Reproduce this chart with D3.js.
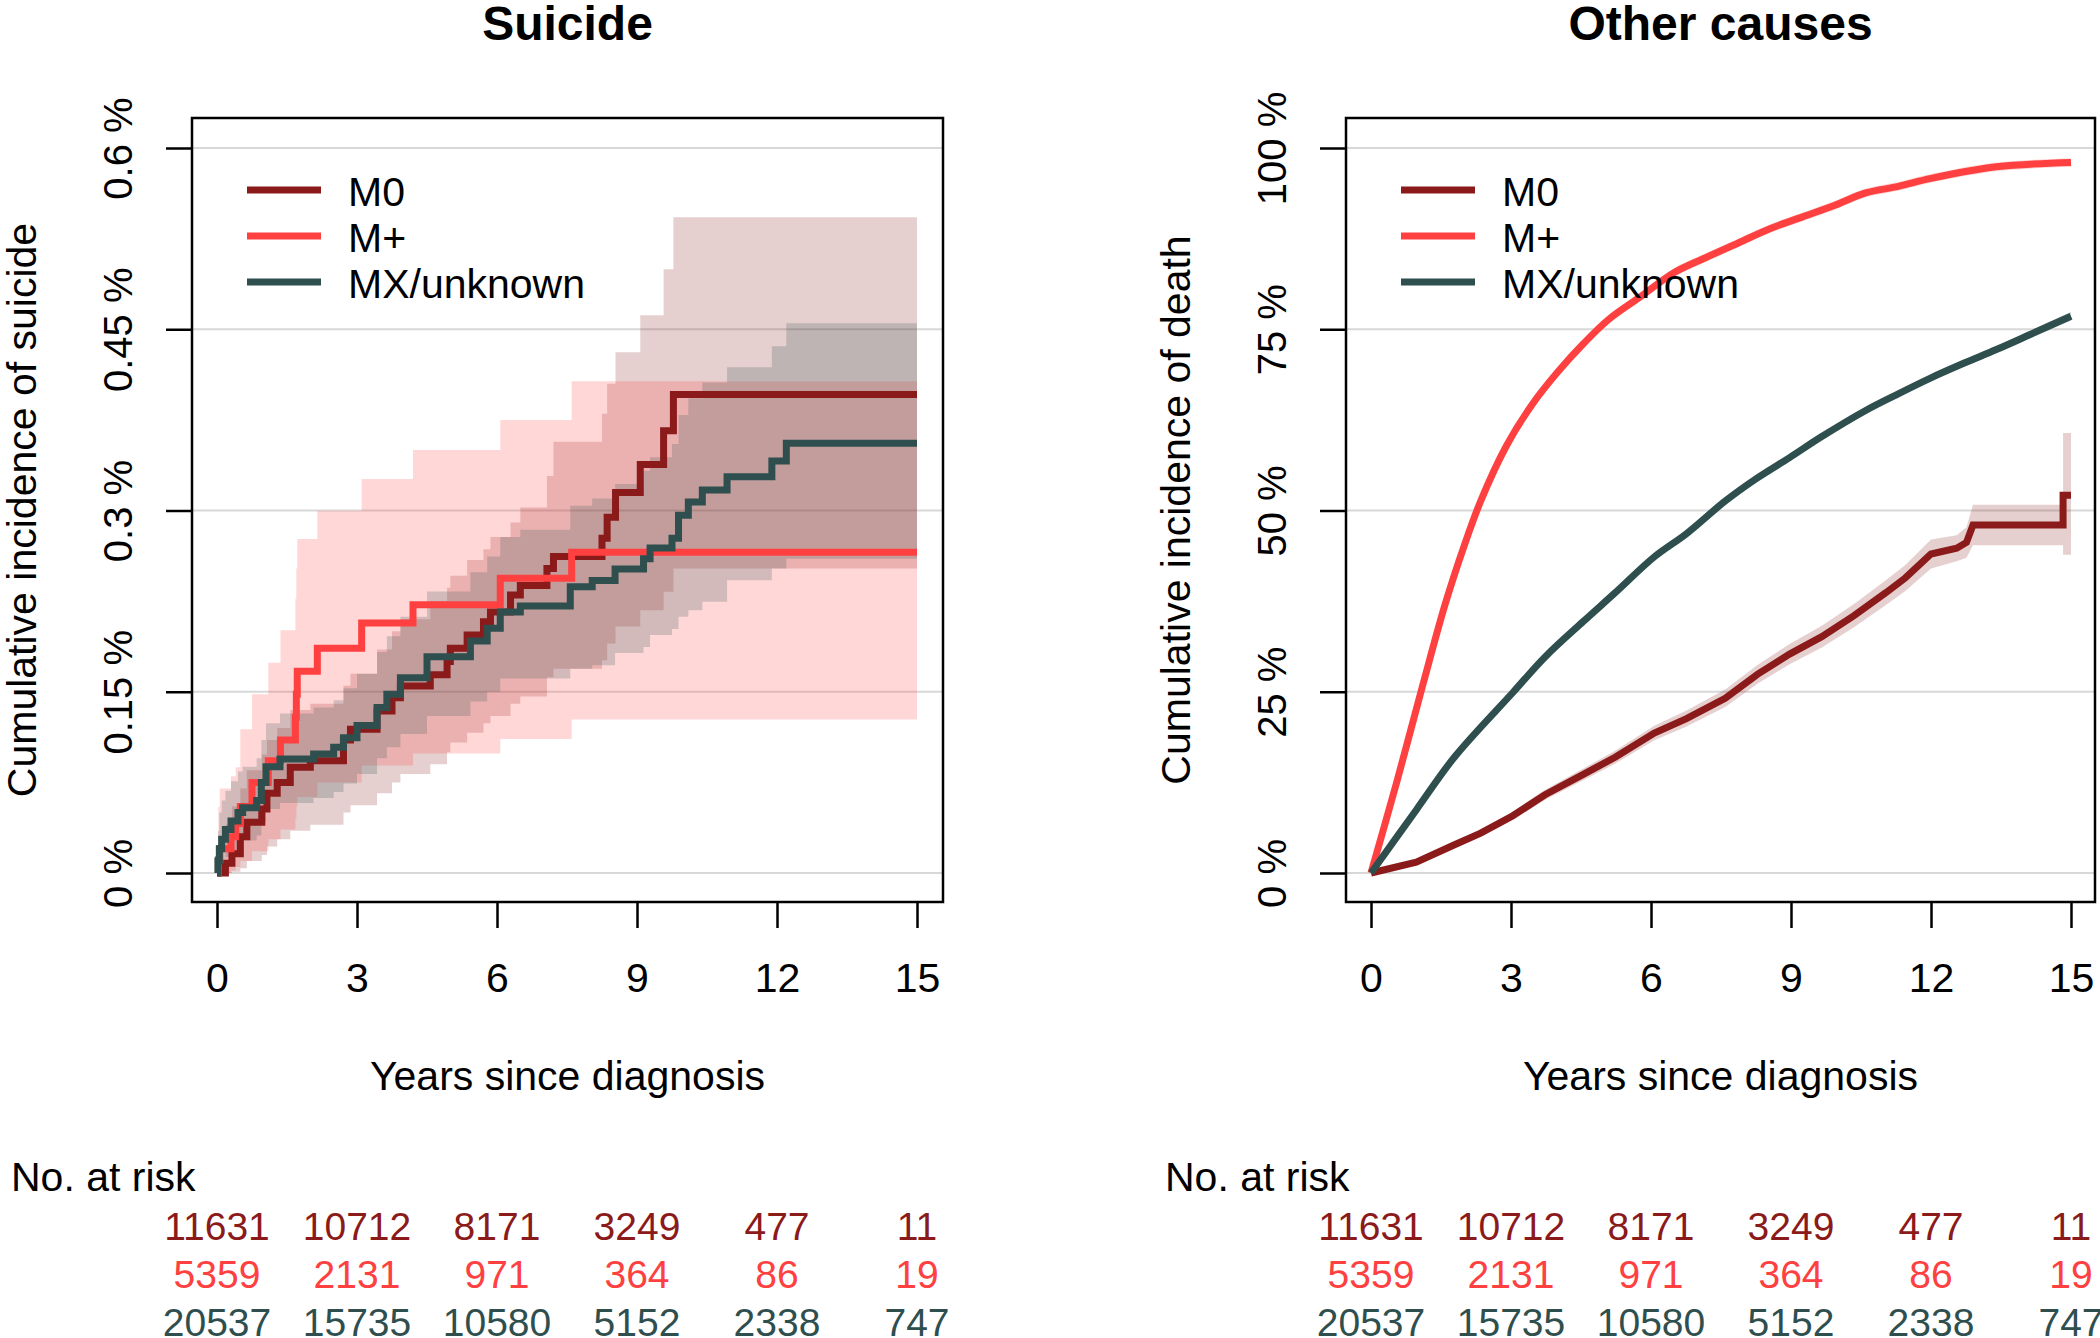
<!DOCTYPE html>
<html>
<head>
<meta charset="utf-8">
<script src="https://cdn.jsdelivr.net/npm/d3@7"></script>
<style>
  body { margin: 0; background: #fff; }
  svg { display: block; }
  text { font-family: "Liberation Sans", Arial, sans-serif; }
</style>
</head>
<body>
<svg id="chart" width="2100" height="1338"></svg>
<script>
// ---------------- DATA ----------------
const groups = ["M0", "M+", "MX/unknown"];
const xTicks = [0, 3, 6, 9, 12, 15];
const suicideTicks = [0, 0.15, 0.3, 0.45, 0.6];
const suicideTickLabels = ["0 %", "0.15 %", "0.3 %", "0.45 %", "0.6 %"];
const deathTicks = [0, 25, 50, 75, 100];
const deathTickLabels = ["0 %", "25 %", "50 %", "75 %", "100 %"];

// Number at risk (at years 0,3,6,9,12,15)
const riskM0 = [11631, 10712, 8171, 3249, 477, 11];
const riskMp = [5359, 2131, 971, 364, 86, 19];
const riskMX = [20537, 15735, 10580, 5152, 2338, 747];

// Suicide: cumulative incidence (%) step functions with 95% CI
const suiM0Time = [0, 0.18, 0.32, 0.5, 0.64, 0.96, 1.07, 1.29, 1.57, 2.0, 2.71, 2.86, 3.43, 3.75, 3.93, 4.57, 4.93, 5.0, 5.36, 5.71, 5.86, 6.29, 6.5, 7.07, 7.21, 8.25, 8.36, 8.54, 9.07, 9.57, 9.78];
const suiM0Est  = [0, 0.008, 0.016, 0.03, 0.042, 0.053, 0.066, 0.075, 0.0876, 0.093, 0.11, 0.119, 0.134, 0.145, 0.1547, 0.164, 0.175, 0.186, 0.197, 0.208, 0.216, 0.23, 0.238, 0.252, 0.262, 0.277, 0.2945, 0.315, 0.338, 0.366, 0.396];
const suiM0Lo   = [0, 0, 0.001, 0.004, 0.01, 0.015, 0.022, 0.028, 0.035, 0.04, 0.05, 0.056, 0.066, 0.075, 0.082, 0.09, 0.1, 0.108, 0.116, 0.124, 0.13, 0.14, 0.146, 0.162, 0.169, 0.176, 0.19, 0.204, 0.2175, 0.2327, 0.252];
const suiM0Hi   = [0, 0.04, 0.055, 0.07, 0.085, 0.098, 0.11, 0.12, 0.135, 0.14, 0.155, 0.165, 0.185, 0.2, 0.21, 0.225, 0.236, 0.246, 0.259, 0.268, 0.278, 0.29, 0.3025, 0.3285, 0.357, 0.38, 0.405, 0.431, 0.4615, 0.4996, 0.5426];

const suiMpTime = [0, 0.03, 0.06, 0.3, 0.4, 0.5, 0.75, 1.1, 1.36, 1.68, 1.7, 1.72, 2.15, 3.1, 4.2, 6.07, 7.6];
const suiMpEst  = [0, 0.011, 0.02, 0.03, 0.041, 0.055, 0.075, 0.093, 0.11, 0.129, 0.148, 0.167, 0.186, 0.207, 0.222, 0.244, 0.2655];
const suiMpLo   = [0, 0, 0, 0.002, 0.005, 0.01, 0.018, 0.028, 0.036, 0.045, 0.055, 0.063, 0.075, 0.089, 0.099, 0.111, 0.127];
const suiMpHi   = [0, 0.055, 0.07, 0.08, 0.0876, 0.119, 0.148, 0.174, 0.201, 0.227, 0.252, 0.2765, 0.2998, 0.326, 0.35, 0.375, 0.407];

const suiMXTime = [0, 0.02, 0.05, 0.1, 0.18, 0.3, 0.45, 0.55, 0.85, 0.95, 1.05, 1.35, 2.07, 2.5, 2.71, 3.0, 3.43, 3.64, 3.93, 4.5, 5.43, 5.79, 6.07, 6.5, 7.57, 8.04, 8.53, 9.14, 9.28, 9.75, 9.89, 10.1, 10.4, 10.93, 11.89, 12.2];
const suiMXEst  = [0, 0.01, 0.02, 0.028, 0.036, 0.043, 0.05, 0.054, 0.06, 0.075, 0.088, 0.0944, 0.0985, 0.104, 0.112, 0.122, 0.137, 0.148, 0.1615, 0.179, 0.192, 0.2026, 0.216, 0.221, 0.237, 0.242, 0.2516, 0.26, 0.269, 0.277, 0.296, 0.307, 0.317, 0.328, 0.341, 0.3556];
const suiMXLo   = [0, 0, 0.003, 0.008, 0.013, 0.018, 0.023, 0.027, 0.031, 0.042, 0.053, 0.058, 0.062, 0.067, 0.074, 0.082, 0.095, 0.104, 0.115, 0.13, 0.142, 0.15, 0.161, 0.161, 0.169, 0.172, 0.182, 0.187, 0.197, 0.202, 0.212, 0.2175, 0.2244, 0.2423, 0.252, 0.26];
const suiMXHi   = [0, 0.035, 0.05, 0.06, 0.068, 0.076, 0.084, 0.088, 0.095, 0.11, 0.124, 0.132, 0.137, 0.143, 0.153, 0.165, 0.183, 0.196, 0.212, 0.233, 0.249, 0.262, 0.278, 0.284, 0.304, 0.31, 0.322, 0.333, 0.344, 0.355, 0.379, 0.393, 0.406, 0.4185, 0.436, 0.455];

// Other causes: cumulative incidence of death (%)
const othM0Time = [0, 0.97, 1.79, 2.35, 3.04, 3.73, 4.55, 5.24, 6.07, 6.76, 7.59, 8.28, 8.97, 9.66, 10.35, 11.04, 11.45, 12.0, 12.55, 12.76, 12.9, 14.83, 14.83, 15];
const othM0Est  = [0, 1.5, 3.9, 5.5, 7.9, 10.8, 13.6, 16.0, 19.3, 21.3, 24.1, 27.4, 30.2, 32.6, 35.5, 38.7, 40.7, 44.0, 44.8, 45.6, 48.0, 48.0, 52.1, 52.1];
const othM0Lo   = [0, 1.2, 3.5, 5.0, 7.3, 10.1, 12.8, 15.1, 18.3, 20.2, 22.9, 26.1, 28.8, 31.1, 33.9, 37.0, 38.9, 42.0, 43.0, 43.5, 45.2, 45.2, 43.9, 43.9];
const othM0Hi   = [0, 1.8, 4.3, 6.0, 8.5, 11.5, 14.4, 16.9, 20.3, 22.4, 25.3, 28.7, 31.6, 34.1, 37.1, 40.4, 42.5, 46.0, 46.6, 47.7, 50.8, 50.8, 60.7, 60.7];

const othMpTime = [0, 0.55, 1.1, 1.59, 2.0, 2.35, 2.9, 3.45, 4.0, 4.55, 5.1, 5.8, 6.49, 7.18, 7.87, 8.56, 9.25, 9.94, 10.6, 11.3, 12.0, 13.4, 15];
const othMpEst  = [0, 12.5, 25.7, 37.1, 45.2, 51.3, 58.9, 64.6, 69.1, 73.0, 76.4, 79.6, 82.8, 84.9, 86.9, 88.9, 90.5, 92.1, 93.8, 94.7, 95.8, 97.4, 98.0];
const othMpLo   = [0, 12.0, 25.1, 36.5, 44.6, 50.7, 58.3, 64.0, 68.5, 72.4, 75.8, 79.0, 82.2, 84.3, 86.3, 88.3, 89.9, 91.5, 93.2, 94.1, 95.2, 96.8, 97.4];
const othMpHi   = [0, 13.0, 26.3, 37.7, 45.8, 51.9, 59.5, 65.2, 69.7, 73.6, 77.0, 80.2, 83.4, 85.5, 87.5, 89.5, 91.1, 92.7, 94.4, 95.3, 96.4, 98.0, 98.6];

const othMXTime = [0, 0.97, 1.79, 3.04, 3.73, 4.55, 5.24, 6.07, 6.76, 7.59, 8.28, 8.97, 9.66, 10.6, 11.3, 12.0, 12.7, 13.4, 14.1, 15];
const othMXEst  = [0, 8.7, 16.0, 24.9, 29.8, 34.7, 38.7, 43.6, 46.8, 51.3, 54.5, 57.3, 60.2, 63.8, 66.1, 68.3, 70.3, 72.2, 74.2, 76.8];
const othMXLo   = [0, 8.4, 15.6, 24.5, 29.4, 34.3, 38.3, 43.2, 46.4, 50.9, 54.1, 56.9, 59.8, 63.4, 65.7, 67.9, 69.8, 71.7, 73.7, 76.2];
const othMXHi   = [0, 9.0, 16.4, 25.3, 30.2, 35.1, 39.1, 44.0, 47.2, 51.7, 54.9, 57.7, 60.6, 64.2, 66.5, 68.7, 70.8, 72.7, 74.7, 77.4];

// ---------------- STYLE / LAYOUT ----------------
const colors = ["#8B1A1A", "#FF4040", "#2F4F4F"];
const bandAlpha = 0.21;
const TOP = 118, BOTTOM = 902;
const FONT = 41;
const RISK_FONT = 39;
const LINE_W = 7;

const svg = d3.select("#chart");

function build(times, est, lo, hi) {
  const pts = times.map((t, i) => ({ t: t, e: est[i], lo: lo[i], hi: hi[i] }));
  const last = pts[pts.length - 1];
  if (last.t < 15) pts.push({ t: 15, e: last.e, lo: last.lo, hi: last.hi });
  return pts;
}

const smooth = d3.curveCatmullRom.alpha(0.5);
const panels = [
  {
    title: "Suicide", ylab: "Cumulative incidence of suicide",
    L: 192, R: 943, yMax: 0.6, ticks: suicideTicks, tickLabels: suicideTickLabels,
    curves: [d3.curveStepAfter, d3.curveStepAfter, d3.curveStepAfter],
    series: [
      build(suiM0Time, suiM0Est, suiM0Lo, suiM0Hi),
      build(suiMpTime, suiMpEst, suiMpLo, suiMpHi),
      build(suiMXTime, suiMXEst, suiMXLo, suiMXHi)
    ]
  },
  {
    title: "Other causes", ylab: "Cumulative incidence of death",
    L: 1346, R: 2095, yMax: 100, ticks: deathTicks, tickLabels: deathTickLabels,
    curves: [d3.curveLinear, smooth, smooth],
    series: [
      build(othM0Time, othM0Est, othM0Lo, othM0Hi),
      build(othMpTime, othMpEst, othMpLo, othMpHi),
      build(othMXTime, othMXEst, othMXLo, othMXHi)
    ]
  }
];
const risks = [riskM0, riskMp, riskMX];

panels.forEach(p => {
  const x = d3.scaleLinear().domain([0, 15]).range([p.L + 25, p.L + 725]);
  const y = d3.scaleLinear().domain([0, p.yMax]).range([873, 148]);
  const g = svg.append("g");
  const cx = (p.L + p.R) / 2;

  // gridlines
  g.selectAll("line.grid").data(p.ticks).enter().append("line")
    .attr("x1", p.L).attr("x2", p.R)
    .attr("y1", d => y(d)).attr("y2", d => y(d))
    .attr("stroke", "#d8d8d8").attr("stroke-width", 2);

  // CI bands
  p.series.forEach((s, i) => {
    const area = d3.area().curve(p.curves[i])
      .x(d => x(d.t)).y0(d => y(d.lo)).y1(d => y(d.hi));
    g.append("path").datum(s).attr("d", area)
      .attr("fill", colors[i]).attr("fill-opacity", bandAlpha).attr("stroke", "none");
  });

  // estimate lines
  p.series.forEach((s, i) => {
    const line = d3.line().curve(p.curves[i]).x(d => x(d.t)).y(d => y(d.e));
    g.append("path").datum(s).attr("d", line)
      .attr("fill", "none").attr("stroke", colors[i]).attr("stroke-width", LINE_W)
      .attr("stroke-linejoin", "miter").attr("stroke-linecap", "butt");
  });

  // box
  g.append("rect").attr("x", p.L).attr("y", TOP)
    .attr("width", p.R - p.L).attr("height", BOTTOM - TOP)
    .attr("fill", "none").attr("stroke", "#000").attr("stroke-width", 2.5);

  // x axis
  const xAxis = d3.axisBottom(x).tickValues(xTicks).tickSize(26).tickPadding(35)
    .tickFormat(d3.format("d"));
  const xg = g.append("g").attr("transform", `translate(0,${BOTTOM})`).call(xAxis);
  xg.select(".domain").remove();
  xg.selectAll(".tick line").attr("stroke", "#000").attr("stroke-width", 2.5);
  xg.selectAll(".tick text").attr("font-size", FONT).attr("fill", "#000")
    .attr("font-family", '"Liberation Sans", Arial, sans-serif');

  // y axis
  const yAxis = d3.axisLeft(y).tickValues(p.ticks).tickSize(26).tickFormat("");
  const yg = g.append("g").attr("transform", `translate(${p.L},0)`).call(yAxis);
  yg.select(".domain").remove();
  yg.selectAll(".tick line").attr("stroke", "#000").attr("stroke-width", 2.5);
  yg.selectAll(".tick").append("text")
    .attr("transform", "translate(-60,0) rotate(-90)")
    .attr("text-anchor", "middle").attr("fill", "#000")
    .attr("font-size", 40)
    .attr("font-family", '"Liberation Sans", Arial, sans-serif')
    .text((d, i) => p.tickLabels[i]);

  // titles
  g.append("text").attr("x", cx).attr("y", 40).attr("text-anchor", "middle")
    .attr("font-size", 48).attr("font-weight", "bold").text(p.title);
  g.append("text").attr("x", cx).attr("y", 1090).attr("text-anchor", "middle")
    .attr("font-size", FONT).text("Years since diagnosis");
  g.append("text").attr("transform", `translate(${p.L - 156},${(TOP + BOTTOM) / 2}) rotate(-90)`)
    .attr("text-anchor", "middle").attr("font-size", FONT).text(p.ylab);

  // legend
  groups.forEach((name, i) => {
    const ly = 190 + 46 * i;
    g.append("line").attr("x1", p.L + 55).attr("x2", p.L + 129)
      .attr("y1", ly).attr("y2", ly)
      .attr("stroke", colors[i]).attr("stroke-width", LINE_W);
    g.append("text").attr("x", p.L + 156).attr("y", ly + 16)
      .attr("font-size", FONT).attr("fill", "#000").text(name);
  });

  // number at risk
  g.append("text").attr("x", p.L - 181).attr("y", 1191)
    .attr("font-size", FONT).attr("fill", "#000").text("No. at risk");
  risks.forEach((r, i) => {
    g.selectAll(null).data(r).enter().append("text")
      .attr("x", (d, j) => x(xTicks[j]))
      .attr("y", 1240 + 48 * i)
      .attr("text-anchor", "middle").attr("font-size", RISK_FONT)
      .attr("fill", colors[i]).text(d => d);
  });
});
</script>
</body>
</html>
